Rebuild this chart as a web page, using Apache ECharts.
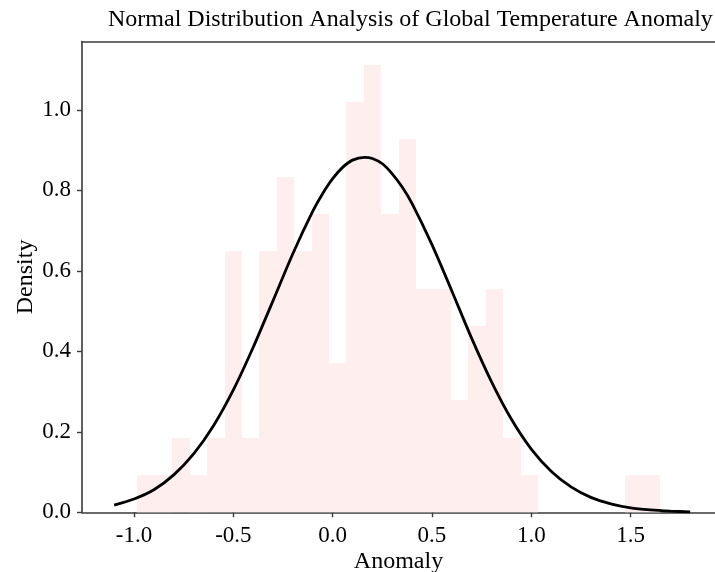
<!DOCTYPE html>
<html>
<head>
<meta charset="utf-8">
<script src="https://cdn.jsdelivr.net/npm/echarts@6/dist/echarts.min.js"></script>
<style>
html,body{margin:0;padding:0;background:#fff;}
#chart{width:715px;height:572px;}
</style>
</head>
<body>
<div id="chart"></div>
<script>
// Histogram: 30 bins starting at binStart, each binWidth wide
var binStart = -0.983;
var binWidth = 0.0877;
var histDensity = [0.093,0.093,0.185,0.093,0.185,0.649,0.185,0.649,0.834,0.649,
                   0.742,0.371,1.020,1.112,0.742,0.927,0.556,0.556,0.278,0.464,
                   0.556,0.185,0.093,0,0,0,0,0,0.093,0.093];
// Fitted normal curve
var curveX = [-1.1,-1.0,-0.9,-0.8,-0.7,-0.6,-0.5,-0.4,-0.3,-0.2,-0.1,-0.05,0.0,0.05,0.1,0.16,0.2,0.25,0.3,0.35,0.4,0.5,0.6,0.7,0.8,0.9,1.0,1.1,1.2,1.3,1.4,1.5,1.6,1.7,1.8];
var curveY = [0.018,0.033,0.056,0.093,0.145,0.215,0.304,0.410,0.526,0.643,0.748,0.792,0.829,0.857,0.875,0.882,0.879,0.866,0.841,0.808,0.767,0.665,0.550,0.432,0.324,0.231,0.157,0.102,0.063,0.037,0.021,0.011,0.006,0.003,0.001];
var xTicks = [-1.0,-0.5,0.0,0.5,1.0,1.5];
var yTicks = [0.0,0.2,0.4,0.6,0.8,1.0];

var FONT = 'Liberation Serif';
var histData = histDensity.map(function(h,i){ return [binStart + i*binWidth, binStart + (i+1)*binWidth, h]; });
var curveData = curveX.map(function(x,i){ return [x, curveY[i]]; });

var chart = echarts.init(document.getElementById('chart'), null, {renderer:'canvas'});
var axisColor = '#3a3a3a';
chart.setOption({
  animation:false,
  backgroundColor:'#fff',
  title:{
    text:'Normal Distribution Analysis of Global Temperature Anomaly',
    left:103, top:3,
    textStyle:{fontFamily:FONT,fontWeight:'normal',fontSize:24,color:'#000'}
  },
  grid:{left:82, top:41.5, width:633, height:470.8, containLabel:false, outerBoundsMode:'none'},
  xAxis:[{
    type:'value', min:-1.262, max:1.925,
    name:'Anomaly', nameLocation:'middle', nameGap:37, nameMoveOverlap:false,
    nameTextStyle:{fontFamily:FONT,fontSize:24,color:'#000'},
    axisLine:{show:true,onZero:false,lineStyle:{color:axisColor,width:1.6}},
    axisTick:{show:true,length:5,customValues:xTicks,lineStyle:{color:axisColor,width:1.4}},
    axisLabel:{customValues:xTicks,margin:12,fontFamily:FONT,fontSize:23,color:'#000',
      formatter:function(v){return v.toFixed(1);}},
    splitLine:{show:false}
  },{
    type:'value', position:'top', min:-1.262, max:1.925,
    axisLine:{show:true,onZero:false,lineStyle:{color:axisColor,width:1.6}},
    axisTick:{show:false}, axisLabel:{show:false}, splitLine:{show:false}
  }],
  yAxis:{
    type:'value', min:0, max:1.1697,
    name:'Density', nameLocation:'middle', nameGap:44, nameRotate:90, nameMoveOverlap:false,
    nameTextStyle:{fontFamily:FONT,fontSize:24,color:'#000'},
    axisLine:{show:true,onZero:false,lineStyle:{color:axisColor,width:1.6}},
    axisTick:{show:true,length:5,customValues:yTicks,lineStyle:{color:axisColor,width:1.4}},
    axisLabel:{customValues:yTicks,margin:11,fontFamily:FONT,fontSize:23,color:'#000',
      formatter:function(v){return v.toFixed(1);}},
    splitLine:{show:false}
  },
  series:[{
    type:'custom',
    xAxisIndex:0,
    data:histData,
    encode:{x:[0,1],y:2},
    renderItem:function(params, api){
      var h = api.value(2);
      if(!h) return null;
      var p0 = api.coord([api.value(0), h]);
      var p1 = api.coord([api.value(1), 0]);
      var x0 = Math.round(p0[0]), x1 = Math.round(p1[0]);
      var y0 = Math.round(p0[1]), y1 = p1[1];
      return {type:'rect', shape:{x:x0, y:y0, width:x1-x0, height:y1-y0},
        style:{fill:'#ffeeee', stroke:null}};
    },
    z:1
  },{
    type:'line',
    xAxisIndex:0,
    data:curveData,
    smooth:0.25,
    symbol:'none',
    lineStyle:{color:'#000',width:2.8},
    z:3
  }]
});
</script>
</body>
</html>
